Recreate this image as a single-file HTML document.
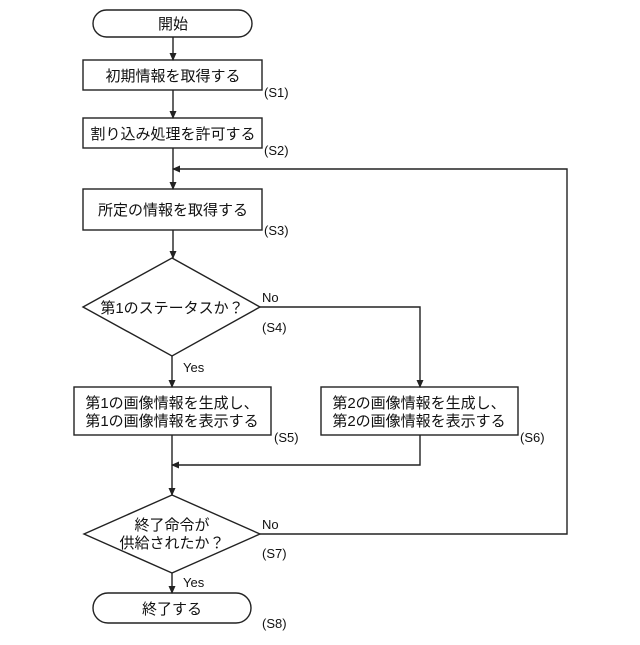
<!DOCTYPE html>
<html><head><meta charset="utf-8"><style>
html,body{margin:0;padding:0;background:#fff;}
svg text{font-family:"Liberation Sans","Noto Sans CJK JP",sans-serif;fill:#111;}
</style></head><body>
<svg width="640" height="640" viewBox="0 0 640 640" xmlns="http://www.w3.org/2000/svg">
<defs><marker id="a" markerWidth="8" markerHeight="8" refX="7" refY="4" orient="auto" markerUnits="userSpaceOnUse"><path d="M0,0.5 L8,4 L0,7.5 Z" fill="#222"/></marker></defs>
<g fill="none" stroke="#222" stroke-width="1.4">
<rect x="93" y="10" width="159" height="27" rx="13.5"/>
<rect x="83" y="60" width="179" height="30"/>
<rect x="83" y="118" width="179" height="30"/>
<rect x="83" y="189" width="179" height="41"/>
<polygon points="172,258 260,307 172,356 83,307"/>
<rect x="74" y="387" width="197" height="48"/>
<rect x="321" y="387" width="197" height="48"/>
<polygon points="172,495 260,534 172,573 84,534"/>
<rect x="93" y="593" width="158" height="30" rx="15"/>
<line x1="173" y1="37" x2="173" y2="60" marker-end="url(#a)"/>
<line x1="173" y1="90" x2="173" y2="118" marker-end="url(#a)"/>
<line x1="173" y1="148" x2="173" y2="189" marker-end="url(#a)"/>
<line x1="173" y1="230" x2="173" y2="258" marker-end="url(#a)"/>
<line x1="172" y1="356" x2="172" y2="387" marker-end="url(#a)"/>
<polyline points="260,307 420,307 420,387" marker-end="url(#a)"/>
<line x1="172" y1="435" x2="172" y2="495" marker-end="url(#a)"/>
<polyline points="420,435 420,465 172,465" marker-end="url(#a)"/>
<line x1="172" y1="573" x2="172" y2="593" marker-end="url(#a)"/>
<polyline points="260,534 567,534 567,169 173,169" marker-end="url(#a)"/>
</g>
<g font-size="15" text-anchor="middle">
<text x="173" y="29">開始</text>
<text x="173" y="81">初期情報を取得する</text>
<text x="173" y="139">割り込み処理を許可する</text>
<text x="173" y="215">所定の情報を取得する</text>
<text x="172" y="313">第1のステータスか？</text>
<text x="172" y="408">第1の画像情報を生成し、</text>
<text x="172" y="426">第1の画像情報を表示する</text>
<text x="419" y="408">第2の画像情報を生成し、</text>
<text x="419" y="426">第2の画像情報を表示する</text>
<text x="172" y="530">終了命令が</text>
<text x="172" y="548">供給されたか？</text>
<text x="172" y="614">終了する</text>
</g>
<g font-size="13">
<text x="264" y="97">(S1)</text>
<text x="264" y="155">(S2)</text>
<text x="264" y="235">(S3)</text>
<text x="262" y="302">No</text>
<text x="262" y="332">(S4)</text>
<text x="183" y="372">Yes</text>
<text x="274" y="442">(S5)</text>
<text x="520" y="442">(S6)</text>
<text x="262" y="529">No</text>
<text x="262" y="558">(S7)</text>
<text x="183" y="587">Yes</text>
<text x="262" y="628">(S8)</text>
</g>
</svg>
</body></html>
